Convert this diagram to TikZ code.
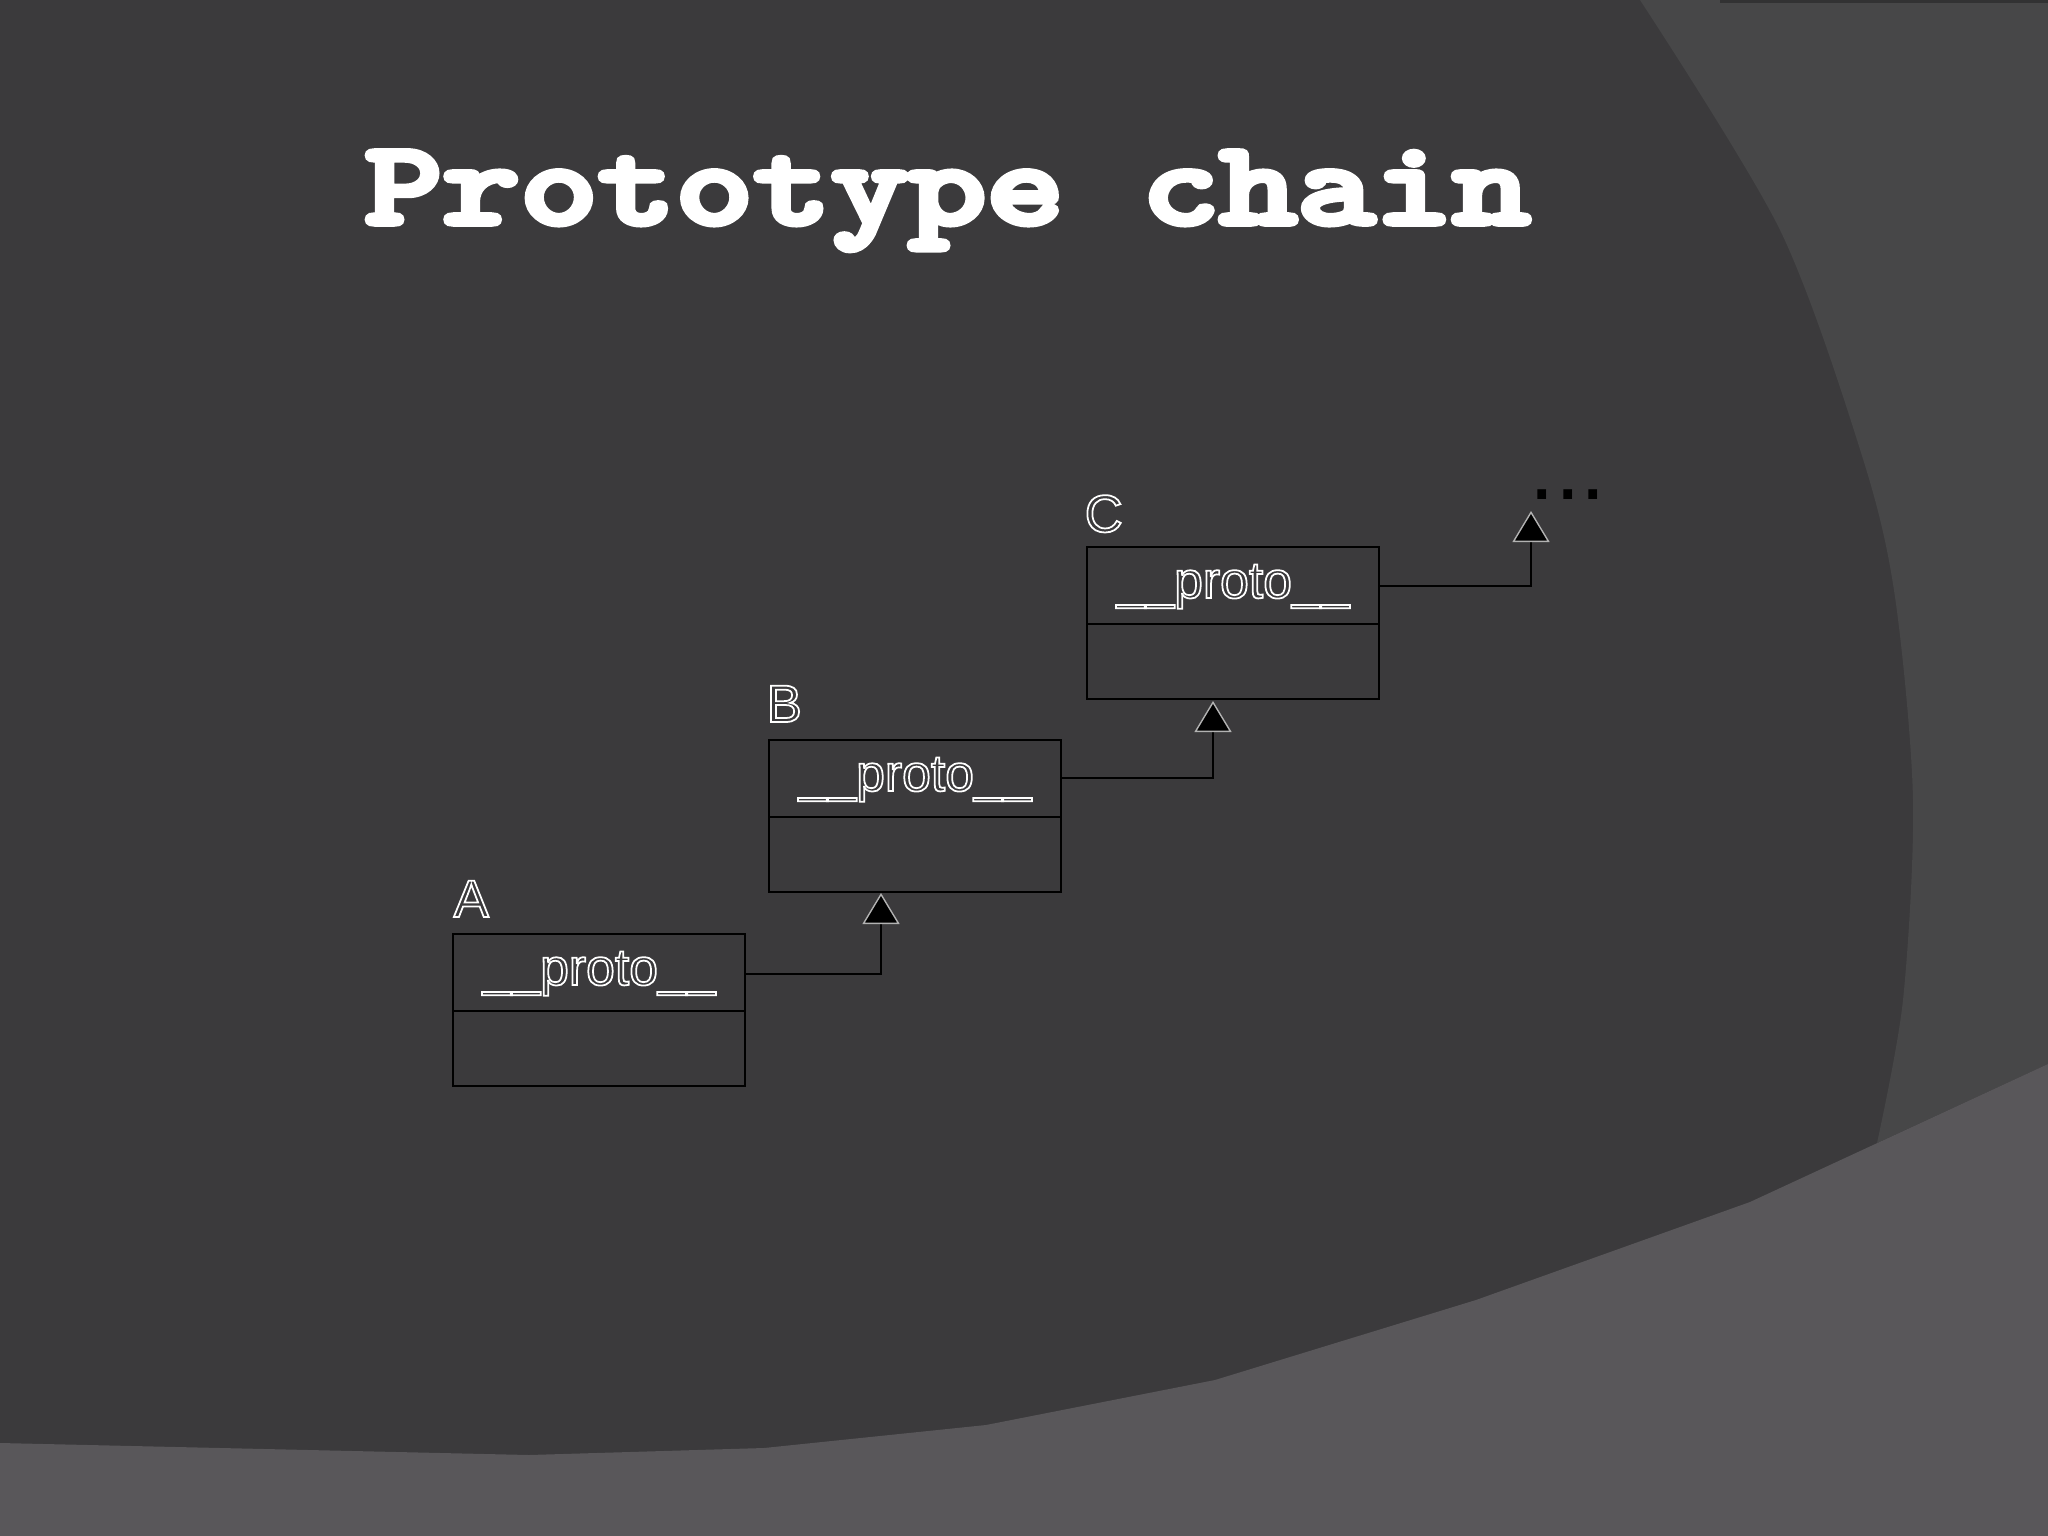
\documentclass[tikz,border=0pt]{standalone}
\usepackage{fontspec}
\setmainfont{Liberation Sans}
\usepackage{graphicx}
\usetikzlibrary{arrows.meta}
\definecolor{bgdark}{RGB}{59,58,60}
\definecolor{bgmid}{RGB}{71,71,72}
\definecolor{bglight}{RGB}{89,87,90}
\definecolor{bgline}{RGB}{50,50,51}
\newcommand{\outlinetext}[1]{\special{pdf:literal direct 1 Tr 0.5 w}#1\special{pdf:literal direct 0 Tr}}
\newcommand{\heavytext}[1]{\special{pdf:literal direct 2 Tr 1.6 w}#1\special{pdf:literal direct 0 Tr}}
\begin{document}
\begin{tikzpicture}[x=0.01cm,y=-0.01cm,
  box/.style={draw=black, line width=0.7pt, minimum width=2.92cm, minimum height=1.52cm, anchor=north west, inner sep=0pt, outer sep=0pt},
  divider/.style={draw=black, line width=0.7pt},
  field/.style={anchor=base, inner sep=0pt, font=\fontsize{14.7}{18}\selectfont, text=white},
  lbl/.style={anchor=base west, inner sep=0pt, font=\fontsize{15}{18}\selectfont, text=white},
  conn/.style={draw=black, line width=0.6pt, -{Triangle[width=0.37cm,length=0.31cm,fill=black,color=black!30!white,line width=0.4pt]}},
]
\useasboundingbox (0,0) rectangle (2048,1536);
% background
\fill[bgdark] (0,0) rectangle (2048,1536);
\fill[bgmid] plot[smooth] coordinates {(1640,0) (1780,230) (1863,459) (1895,597) (1913,800) (1903,1000) (1877,1143)} -- (2048,1064) -- (2048,0) -- cycle;
\fill[bgline] (1720,0) rectangle (2048,3);
\fill[bglight] (0,1443) -- (529,1455) -- (764,1448) -- (986,1425) -- (1215,1380) -- (1476,1300) -- (1750,1202) -- (2048,1064) -- (2048,1536) -- (0,1536) -- cycle;

% boxes
\node[box] (A) at (453,934) {};
\node[box] (B) at (769,740) {};
\node[box] (C) at (1087,547) {};
\foreach \n in {A,B,C}{
  \draw[divider] ([yshift=-0.77cm]\n.north west) -- ([yshift=-0.77cm]\n.north east);
}
\node[field] (Af) at ([yshift=-0.51cm]A.north) {\outlinetext{\_\_proto\_\_}};
\node[field] (Bf) at ([yshift=-0.51cm]B.north) {\outlinetext{\_\_proto\_\_}};
\node[field] (Cf) at ([yshift=-0.51cm]C.north) {\outlinetext{\_\_proto\_\_}};
\node[lbl] (Al) at ([yshift=0.17cm]A.north west) {\outlinetext{A}};
\node[lbl] (Bl) at ([xshift=-0.03cm,yshift=0.18cm]B.north west) {\outlinetext{B}};
\node[lbl] (Cl) at ([xshift=-0.03cm,yshift=0.15cm]C.north west) {\outlinetext{C}};

% continuation
\node[anchor=base west, inner sep=0pt, text=black, font=\fontsize{26}{30}\selectfont] (dots) at (1529,499) {...};

% connectors
\coordinate (Bin) at (881,893);
\coordinate (Cin) at (1213,701);
\coordinate (Din) at (1531,511);
\draw[conn] ([yshift=-0.40cm]A.north east) -| (Bin);
\draw[conn] ([yshift=-0.38cm]B.north east) -| (Cin);
\draw[conn] ([yshift=-0.39cm]C.north east) -| (Din);

% title
\node[anchor=base, inner sep=0pt, text=white, font=\ttfamily\bfseries\fontsize{34}{40}\selectfont] (title) at (947.5,224) {\scalebox{1.238}[1]{\heavytext{Prototype chain}}};
\end{tikzpicture}
\end{document}
